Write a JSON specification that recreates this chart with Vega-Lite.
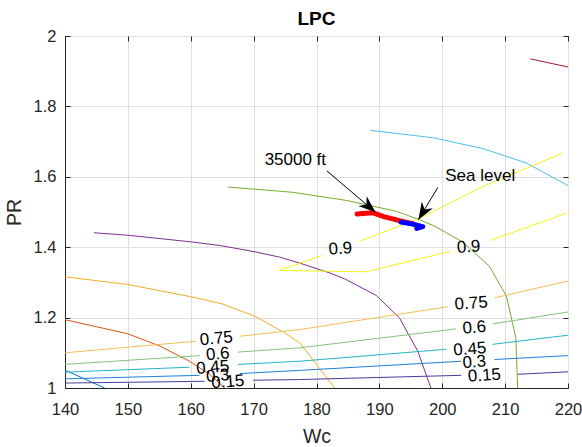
{
  "$schema": "https://vega.github.io/schema/vega-lite/v6.json",
  "width": 503,
  "height": 352,
  "autosize": {"type": "none"},
  "padding": {"left": 65, "top": 36, "right": 14, "bottom": 59},
  "title": {"text": "LPC", "font": "Liberation Sans", "fontSize": 19, "fontWeight": "bold", "color": "#000000", "anchor": "middle", "offset": -1},
  "config": {
    "view": {"stroke": "#262626", "strokeWidth": 1},
    "axis": {
      "labelFont": "Liberation Sans", "labelFontSize": 16.5, "labelColor": "#262626",
      "titleFont": "Liberation Sans", "titleFontSize": 19.5, "titleFontWeight": "normal", "titleColor": "#262626",
      "domainColor": "#262626", "tickColor": "#262626", "gridColor": "#dfdfdf", "gridOpacity": 1, "labelFlush": false
    },
    "text": {"font": "Liberation Sans"}
  },
  "datasets": {
    "speed": [
      {"line": "s1", "Wc": 140, "PR": 1.051}, {"line": "s1", "Wc": 146.3, "PR": 1.0},
      {"line": "s2", "Wc": 140, "PR": 1.194}, {"line": "s2", "Wc": 150, "PR": 1.154}, {"line": "s2", "Wc": 155.1, "PR": 1.119}, {"line": "s2", "Wc": 159.8, "PR": 1.076}, {"line": "s2", "Wc": 163.0, "PR": 1.039}, {"line": "s2", "Wc": 165.4, "PR": 1.0},
      {"line": "s3", "Wc": 140, "PR": 1.316}, {"line": "s3", "Wc": 150, "PR": 1.294}, {"line": "s3", "Wc": 160.1, "PR": 1.259}, {"line": "s3", "Wc": 165.0, "PR": 1.239}, {"line": "s3", "Wc": 170.2, "PR": 1.204}, {"line": "s3", "Wc": 174.9, "PR": 1.157}, {"line": "s3", "Wc": 177.3, "PR": 1.129}, {"line": "s3", "Wc": 179.4, "PR": 1.081}, {"line": "s3", "Wc": 182.9, "PR": 1.0},
      {"line": "s4", "Wc": 144.6, "PR": 1.441}, {"line": "s4", "Wc": 150, "PR": 1.434}, {"line": "s4", "Wc": 160.1, "PR": 1.415}, {"line": "s4", "Wc": 164.6, "PR": 1.405}, {"line": "s4", "Wc": 169.9, "PR": 1.388}, {"line": "s4", "Wc": 174.1, "PR": 1.372}, {"line": "s4", "Wc": 177.3, "PR": 1.355}, {"line": "s4", "Wc": 182.1, "PR": 1.327}, {"line": "s4", "Wc": 184.5, "PR": 1.31}, {"line": "s4", "Wc": 189.5, "PR": 1.263}, {"line": "s4", "Wc": 193.2, "PR": 1.199}, {"line": "s4", "Wc": 196.1, "PR": 1.105}, {"line": "s4", "Wc": 198.2, "PR": 1.0},
      {"line": "s5", "Wc": 165.9, "PR": 1.571}, {"line": "s5", "Wc": 176.2, "PR": 1.556}, {"line": "s5", "Wc": 184.7, "PR": 1.533}, {"line": "s5", "Wc": 192.7, "PR": 1.502}, {"line": "s5", "Wc": 196.4, "PR": 1.478}, {"line": "s5", "Wc": 199.0, "PR": 1.458}, {"line": "s5", "Wc": 203.3, "PR": 1.414}, {"line": "s5", "Wc": 207.5, "PR": 1.346}, {"line": "s5", "Wc": 210.2, "PR": 1.261}, {"line": "s5", "Wc": 211.7, "PR": 1.143}, {"line": "s5", "Wc": 212.0, "PR": 1.0},
      {"line": "s6", "Wc": 188.6, "PR": 1.732}, {"line": "s6", "Wc": 198.5, "PR": 1.711}, {"line": "s6", "Wc": 206.5, "PR": 1.68}, {"line": "s6", "Wc": 213.4, "PR": 1.639}, {"line": "s6", "Wc": 220, "PR": 1.575},
      {"line": "s7", "Wc": 214.0, "PR": 1.935}, {"line": "s7", "Wc": 220, "PR": 1.912}
    ],
    "contour": [
      {"level": "0.75", "piece": "0.75a", "Wc": 140, "PR": 1.1}, {"level": "0.75", "piece": "0.75a", "Wc": 160.9, "PR": 1.133},
      {"level": "0.75", "piece": "0.75b", "Wc": 167.8, "PR": 1.147}, {"level": "0.75", "piece": "0.75b", "Wc": 177.3, "PR": 1.166}, {"level": "0.75", "piece": "0.75b", "Wc": 200.9, "PR": 1.231},
      {"level": "0.75", "piece": "0.75c", "Wc": 208.3, "PR": 1.256}, {"level": "0.75", "piece": "0.75c", "Wc": 220, "PR": 1.304},
      {"level": "0.6", "piece": "0.6a", "Wc": 140, "PR": 1.067}, {"level": "0.6", "piece": "0.6a", "Wc": 161.4, "PR": 1.092},
      {"level": "0.6", "piece": "0.6b", "Wc": 167.5, "PR": 1.102}, {"level": "0.6", "piece": "0.6b", "Wc": 177.3, "PR": 1.114}, {"level": "0.6", "piece": "0.6b", "Wc": 202.2, "PR": 1.168},
      {"level": "0.6", "piece": "0.6c", "Wc": 208.0, "PR": 1.182}, {"level": "0.6", "piece": "0.6c", "Wc": 220, "PR": 1.216},
      {"level": "0.45", "piece": "0.45a", "Wc": 140, "PR": 1.045}, {"level": "0.45", "piece": "0.45a", "Wc": 159.8, "PR": 1.059},
      {"level": "0.45", "piece": "0.45b", "Wc": 167.5, "PR": 1.067}, {"level": "0.45", "piece": "0.45b", "Wc": 177.3, "PR": 1.076}, {"level": "0.45", "piece": "0.45b", "Wc": 200.6, "PR": 1.11},
      {"level": "0.45", "piece": "0.45c", "Wc": 208.0, "PR": 1.124}, {"level": "0.45", "piece": "0.45c", "Wc": 220, "PR": 1.15},
      {"level": "0.3", "piece": "0.3a", "Wc": 140, "PR": 1.026}, {"level": "0.3", "piece": "0.3a", "Wc": 161.4, "PR": 1.036},
      {"level": "0.3", "piece": "0.3b", "Wc": 167.8, "PR": 1.041}, {"level": "0.3", "piece": "0.3b", "Wc": 177.3, "PR": 1.05}, {"level": "0.3", "piece": "0.3b", "Wc": 203.0, "PR": 1.076},
      {"level": "0.3", "piece": "0.3c", "Wc": 208.3, "PR": 1.081}, {"level": "0.3", "piece": "0.3c", "Wc": 220, "PR": 1.092},
      {"level": "0.15", "piece": "0.15a", "Wc": 140, "PR": 1.014}, {"level": "0.15", "piece": "0.15a", "Wc": 162.2, "PR": 1.019},
      {"level": "0.15", "piece": "0.15b", "Wc": 169.9, "PR": 1.022}, {"level": "0.15", "piece": "0.15b", "Wc": 177.3, "PR": 1.024}, {"level": "0.15", "piece": "0.15b", "Wc": 203.0, "PR": 1.036},
      {"level": "0.15", "piece": "0.15c", "Wc": 212.0, "PR": 1.039}, {"level": "0.15", "piece": "0.15c", "Wc": 220, "PR": 1.046},
      {"level": "0.9", "piece": "0.9a", "Wc": 174.1, "PR": 1.334}, {"level": "0.9", "piece": "0.9a", "Wc": 180.8, "PR": 1.376},
      {"level": "0.9", "piece": "0.9b", "Wc": 186.9, "PR": 1.417}, {"level": "0.9", "piece": "0.9b", "Wc": 196.4, "PR": 1.482}, {"level": "0.9", "piece": "0.9b", "Wc": 205.9, "PR": 1.568}, {"level": "0.9", "piece": "0.9b", "Wc": 219.1, "PR": 1.667},
      {"level": "0.9", "piece": "0.9c", "Wc": 174.1, "PR": 1.334}, {"level": "0.9", "piece": "0.9c", "Wc": 187.9, "PR": 1.33}, {"level": "0.9", "piece": "0.9c", "Wc": 201.2, "PR": 1.388},
      {"level": "0.9", "piece": "0.9d", "Wc": 207.6, "PR": 1.419}, {"level": "0.9", "piece": "0.9d", "Wc": 219.8, "PR": 1.497}
    ],
    "clabels": [
      {"key": "L0.75", "label": "0.75", "Wc": 164.07, "PR": 1.14},
      {"key": "L0.6", "label": "0.6", "Wc": 164.3, "PR": 1.096},
      {"key": "L0.45", "label": "0.45", "Wc": 163.5, "PR": 1.058},
      {"key": "L0.3", "label": "0.3", "Wc": 164.3, "PR": 1.034},
      {"key": "L0.15", "label": "0.15", "Wc": 165.9, "PR": 1.017},
      {"key": "R0.75", "label": "0.75", "Wc": 204.6, "PR": 1.24},
      {"key": "R0.6", "label": "0.6", "Wc": 205.1, "PR": 1.171},
      {"key": "R0.45", "label": "0.45", "Wc": 204.4, "PR": 1.11},
      {"key": "R0.3", "label": "0.3", "Wc": 205.1, "PR": 1.073},
      {"key": "R0.15", "label": "0.15", "Wc": 206.7, "PR": 1.035},
      {"key": "U0.9", "label": "0.9", "Wc": 183.8, "PR": 1.395},
      {"key": "D0.9", "label": "0.9", "Wc": 204.2, "PR": 1.4}
    ],
    "ops": [
      {"case": "35000 ft", "Wc": 186.45, "PR": 1.494}, {"case": "35000 ft", "Wc": 188.9, "PR": 1.498}, {"case": "35000 ft", "Wc": 190.7, "PR": 1.487}, {"case": "35000 ft", "Wc": 193.2, "PR": 1.4755}, {"case": "35000 ft", "Wc": 195.3, "PR": 1.467},
      {"case": "Sea level", "Wc": 193.45, "PR": 1.4712}, {"case": "Sea level", "Wc": 195.3, "PR": 1.4655}, {"case": "Sea level", "Wc": 196.9, "PR": 1.4584}, {"case": "Sea level", "Wc": 195.95, "PR": 1.4535}
    ],
    "arrows": [
      {"note": "35000 ft", "Wc": 181.66, "PR": 1.6167, "tipWc": 189.4, "tipPR": 1.499},
      {"note": "Sea level", "Wc": 199.3, "PR": 1.57, "tipWc": 196.2, "tipPR": 1.478}
    ],
    "notes": [
      {"note": "35000 ft", "Wc": 171.75, "PR": 1.6465},
      {"note": "Sea level", "Wc": 200.48, "PR": 1.601}
    ]
  },
  "resolve": {"scale": {"color": "independent"}, "axis": {"x": "independent", "y": "independent"}},
  "layer": [
    {
      "data": {"name": "speed"},
      "mark": {"type": "line", "strokeWidth": 1, "clip": true},
      "encoding": {
        "x": {"field": "Wc", "type": "quantitative", "scale": {"domain": [140, 220], "nice": false, "zero": false},
              "axis": {"orient": "bottom", "title": "Wc", "values": [140, 150, 160, 170, 180, 190, 200, 210, 220], "tickSize": -5, "labelPadding": 18, "titlePadding": 10, "grid": true}},
        "y": {"field": "PR", "type": "quantitative", "scale": {"domain": [1, 2], "nice": false, "zero": false},
              "axis": {"orient": "left", "title": "PR", "values": [1, 1.2, 1.4, 1.6, 1.8, 2], "format": ".2~f", "tickSize": -5, "labelPadding": 14, "titlePadding": 9, "grid": true}},
        "color": {"field": "line", "type": "nominal", "legend": null,
                  "scale": {"domain": ["s1", "s2", "s3", "s4", "s5", "s6", "s7"], "range": ["#0072BD", "#D95319", "#EDB120", "#7E2F8E", "#77AC30", "#4DBEEE", "#A2142F"]}},
        "order": {"value": null}
      }
    },
    {
      "data": {"name": "contour"},
      "mark": {"type": "line", "strokeWidth": 1, "clip": true},
      "encoding": {
        "x": {"field": "Wc", "type": "quantitative", "scale": {"domain": [140, 220], "nice": false, "zero": false},
              "axis": {"orient": "top", "title": null, "labels": false, "domain": false, "grid": false, "values": [140, 150, 160, 170, 180, 190, 200, 210, 220], "tickSize": -5}},
        "y": {"field": "PR", "type": "quantitative", "scale": {"domain": [1, 2], "nice": false, "zero": false},
              "axis": {"orient": "right", "title": null, "labels": false, "domain": false, "grid": false, "values": [1, 1.2, 1.4, 1.6, 1.8, 2], "tickSize": -5}},
        "color": {"field": "level", "type": "nominal", "legend": null,
                  "scale": {"domain": ["0.15", "0.3", "0.45", "0.6", "0.75", "0.9"], "range": ["#433d9c", "#1f80d8", "#22b5c8", "#84c47c", "#f4be55", "#f3f31a"]}},
        "detail": {"field": "piece"},
        "order": {"value": null}
      }
    },
    {
      "data": {"name": "ops"},
      "transform": [{"filter": "datum.case == '35000 ft'"}],
      "mark": {"type": "line", "strokeWidth": 5, "strokeCap": "round", "strokeJoin": "round", "color": "#ff0000"},
      "encoding": {
        "x": {"field": "Wc", "type": "quantitative", "axis": null, "scale": {"domain": [140, 220], "nice": false, "zero": false}},
        "y": {"field": "PR", "type": "quantitative", "axis": null, "scale": {"domain": [1, 2], "nice": false, "zero": false}},
        "order": {"value": null}
      }
    },
    {
      "data": {"name": "ops"},
      "transform": [{"filter": "datum.case == 'Sea level'"}],
      "mark": {"type": "line", "strokeWidth": 5, "strokeCap": "round", "strokeJoin": "round", "color": "#0000ff"},
      "encoding": {
        "x": {"field": "Wc", "type": "quantitative", "axis": null, "scale": {"domain": [140, 220], "nice": false, "zero": false}},
        "y": {"field": "PR", "type": "quantitative", "axis": null, "scale": {"domain": [1, 2], "nice": false, "zero": false}},
        "order": {"value": null}
      }
    },
    {
      "data": {"name": "arrows"},
      "mark": {"type": "rule", "color": "#000000", "strokeWidth": 1},
      "encoding": {
        "x": {"field": "Wc", "type": "quantitative", "axis": null, "scale": {"domain": [140, 220], "nice": false, "zero": false}},
        "y": {"field": "PR", "type": "quantitative", "axis": null, "scale": {"domain": [1, 2], "nice": false, "zero": false}},
        "x2": {"field": "tipWc"},
        "y2": {"field": "tipPR"}
      }
    },
    {
      "data": {"name": "arrows"},
      "transform": [{"filter": "datum.note == '35000 ft'"}],
      "mark": {"type": "point", "shape": "M0,0 L0.75,2 L0,1.4 L-0.75,2 Z", "filled": true, "color": "#000000", "opacity": 1, "size": 300, "angle": 130.6},
      "encoding": {
        "x": {"field": "tipWc", "type": "quantitative", "axis": null, "scale": {"domain": [140, 220], "nice": false, "zero": false}},
        "y": {"field": "tipPR", "type": "quantitative", "axis": null, "scale": {"domain": [1, 2], "nice": false, "zero": false}}
      }
    },
    {
      "data": {"name": "arrows"},
      "transform": [{"filter": "datum.note == 'Sea level'"}],
      "mark": {"type": "point", "shape": "M0,0 L0.75,2 L0,1.4 L-0.75,2 Z", "filled": true, "color": "#000000", "opacity": 1, "size": 300, "angle": 211.3},
      "encoding": {
        "x": {"field": "tipWc", "type": "quantitative", "axis": null, "scale": {"domain": [140, 220], "nice": false, "zero": false}},
        "y": {"field": "tipPR", "type": "quantitative", "axis": null, "scale": {"domain": [1, 2], "nice": false, "zero": false}}
      }
    },
    {
      "data": {"name": "notes"},
      "mark": {"type": "text", "align": "left", "baseline": "middle", "fontSize": 17, "color": "#000000"},
      "encoding": {
        "x": {"field": "Wc", "type": "quantitative", "axis": null, "scale": {"domain": [140, 220], "nice": false, "zero": false}},
        "y": {"field": "PR", "type": "quantitative", "axis": null, "scale": {"domain": [1, 2], "nice": false, "zero": false}},
        "text": {"field": "note"}
      }
    },
    {
      "data": {"name": "clabels"},
      "mark": {"type": "text", "align": "center", "baseline": "middle", "fontSize": 17, "color": "#000000"},
      "encoding": {
        "x": {"field": "Wc", "type": "quantitative", "axis": null, "scale": {"domain": [140, 220], "nice": false, "zero": false}},
        "y": {"field": "PR", "type": "quantitative", "axis": null, "scale": {"domain": [1, 2], "nice": false, "zero": false}},
        "text": {"field": "label"},
        "angle": {"field": "key", "type": "nominal", "legend": null,
                  "scale": {"domain": ["L0.75", "L0.6", "L0.45", "L0.3", "L0.15", "R0.75", "R0.6", "R0.45", "R0.3", "R0.15", "U0.9", "D0.9"],
                            "range": [-5, -4, -3, -2, -1, -10, -8, -6, -3, -2, -21, -16]}}
      }
    }
  ]
}
